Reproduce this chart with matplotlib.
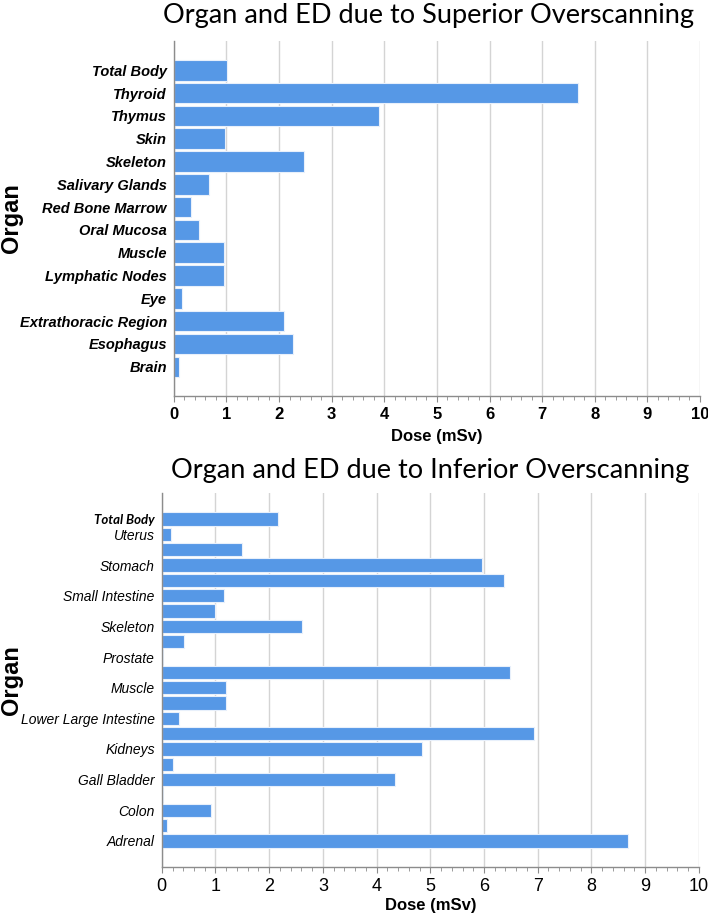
import numpy as np
import matplotlib.pyplot as plt
from matplotlib.ticker import MultipleLocator

# superior overscanning (top to bottom)
sup_organs = ['Total Body', 'Thyroid', 'Thymus', 'Skin', 'Skeleton', 'Salivary Glands',
              'Red Bone Marrow', 'Oral Mucosa', 'Muscle', 'Lymphatic Nodes', 'Eye',
              'Extrathoracic Region', 'Esophagus', 'Brain']
sup_dose = [1.02, 7.69, 3.90, 0.98, 2.48, 0.66, 0.33, 0.48, 0.95, 0.95, 0.16, 2.09, 2.26, 0.09]

# inferior overscanning (top to bottom); only every other organ is labelled in the figure
inf_organs = ['Total Body', 'Uterus', 'Urinary Bladder', 'Stomach', 'Spleen', 'Small Intestine',
              'Skin', 'Skeleton', 'Red Bone Marrow', 'Prostate', 'Pancreas', 'Muscle', 'Lungs',
              'Lower Large Intestine', 'Liver', 'Kidneys', 'Heart Wall', 'Gall Bladder',
              'Esophagus', 'Colon', 'Breast', 'Adrenal']
inf_dose = [2.17, 0.165, 1.49, 5.96, 6.38, 1.16, 1.0, 2.61, 0.42, 0.02, 6.48, 1.19, 1.19,
            0.32, 6.94, 4.85, 0.2, 4.34, 0.02, 0.91, 0.1, 8.69]
inf_shown = [1, 1, 0, 1, 0, 1, 0, 1, 0, 1, 0, 1, 0, 1, 0, 1, 0, 1, 0, 1, 0, 1]

bar_color = '#5698E6'
spine_col = '#8c8c8c'
grid_col = '#d4d4d4'

fig = plt.figure(figsize=(7.08, 9.16), dpi=100)


def style_axis(ax, bold_ticks):
    ax.set_xlim(0, 10)
    ax.xaxis.set_major_locator(MultipleLocator(1))
    ax.xaxis.set_minor_locator(MultipleLocator(0.2))
    ax.grid(axis='x', color=grid_col, linewidth=1.0)
    ax.set_axisbelow(True)
    for s in ['top', 'right']:
        ax.spines[s].set_visible(False)
    for s in ['left', 'bottom']:
        ax.spines[s].set_color(spine_col)
        ax.spines[s].set_linewidth(1.0)
    ax.tick_params(axis='x', which='major', length=4, color=spine_col, pad=4)
    ax.tick_params(axis='x', which='minor', length=3, color=spine_col)
    ax.tick_params(axis='y', length=0, pad=5)
    for lab in ax.get_xticklabels():
        lab.set_family('Liberation Sans')
        lab.set_fontsize(12 if bold_ticks else 13)
        lab.set_fontweight('bold' if bold_ticks else 'normal')


# --- top chart ---
ax1 = fig.add_axes([0.2455, 0.5677, 0.7432, 0.3875])
y1 = np.arange(len(sup_organs))
ax1.barh(y1, sup_dose, height=0.9, color=bar_color, edgecolor='#e8f0fb', linewidth=0.8)
ax1.set_ylim(len(sup_organs) - 1 + 1.28, -1.28)
ax1.set_yticks(y1)
ax1.set_yticklabels(sup_organs, family='Liberation Sans', fontsize=10.5,
                    fontweight='bold', style='italic')
style_axis(ax1, True)
ax1.set_xlabel('Dose (mSv)', family='Liberation Sans', fontsize=12, fontweight='bold', labelpad=5)
ax1.set_ylabel('Organ', family='Liberation Sans', fontsize=17, fontweight='bold', va='center')
ax1.yaxis.set_label_coords(-0.308, 0.5)

# --- bottom chart ---
ax2 = fig.add_axes([0.2285, 0.0535, 0.7585, 0.4083])
y2 = np.arange(len(inf_organs))
ax2.barh(y2, inf_dose, height=0.87, color=bar_color, edgecolor='#e8f0fb', linewidth=0.8)
ax2.set_ylim(len(inf_organs) - 1 + 1.7, -1.7)
ax2.set_yticks(y2)
labels2 = [o if s else '' for o, s in zip(inf_organs, inf_shown)]
ax2.set_yticklabels(labels2, family='Liberation Sans', fontsize=10, style='italic')
tb = ax2.get_yticklabels()[0]
tb.set_family('Lato')
tb.set_fontsize(9.5)
tb.set_fontweight('bold')
tb.set_y(-0.15)
style_axis(ax2, False)
ax2.set_xlabel('Dose (mSv)', family='Liberation Sans', fontsize=12, fontweight='bold', labelpad=2)
ax2.set_ylabel('Organ', family='Liberation Sans', fontsize=17, fontweight='bold', va='center')
ax2.yaxis.set_label_coords(-0.279, 0.5)

fig.text(0.605, 0.983, 'Organ and ED due to Superior Overscanning', ha='center', va='center',
         family='Lato', fontsize=19.5)
fig.text(0.607, 0.486, 'Organ and ED due to Inferior Overscanning', ha='center', va='center',
         family='Lato', fontsize=19.5)

fig.savefig('out.png', dpi=100)
